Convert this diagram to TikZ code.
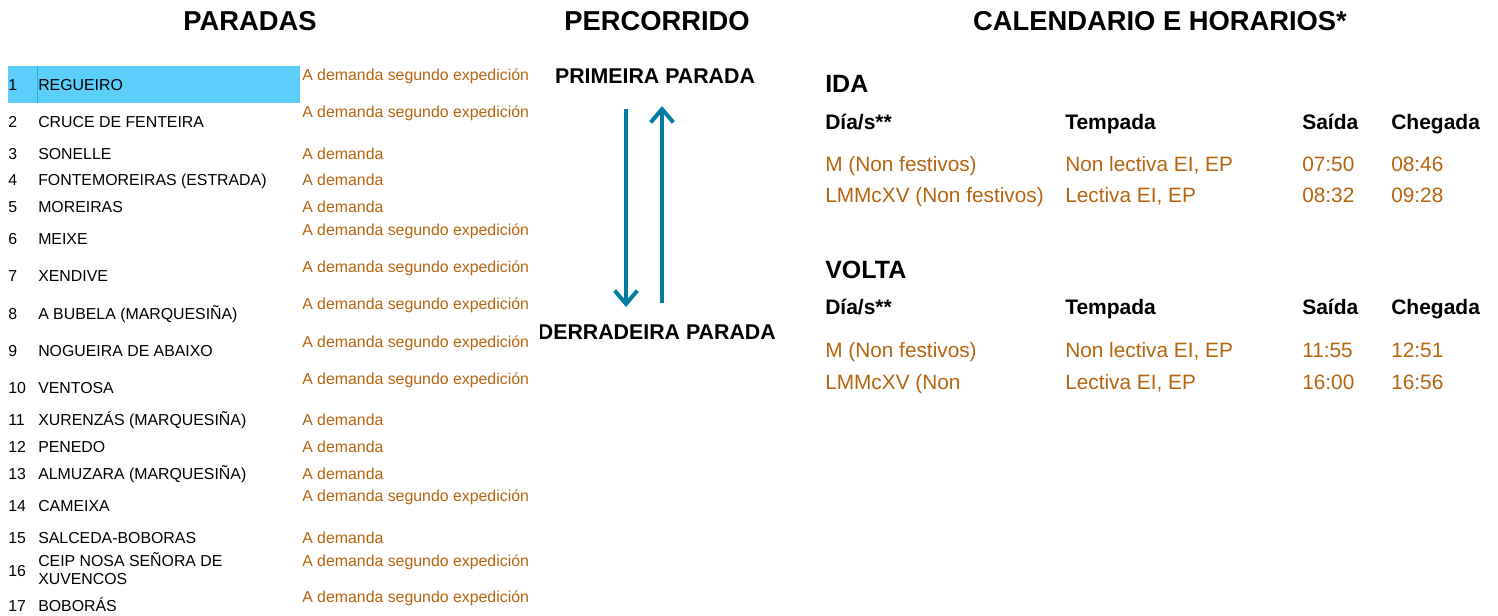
\documentclass[tikz,border=0pt]{standalone}
\usepackage{fontspec}
\setmainfont{Liberation Sans}
\usetikzlibrary{arrows.meta}

\begin{document}
\begin{tikzpicture}[x=0.75pt,y=0.75pt,yscale=-1,xscale=1,inner sep=0pt,
  title/.style={anchor=base,font=\fontsize{20.5}{24}\bfseries\selectfont},
  stopnum/.style={anchor=base west,font=\fontsize{11.9}{13.5}\selectfont},
  stopname/.style={anchor=base west,align=left,font=\fontsize{11.9}{13.5}\selectfont},
  demand/.style={anchor=base west,text={rgb, 255:red, 182; green, 100; blue, 14 },font=\fontsize{11.9}{13.5}\selectfont},
  ends/.style={font=\fontsize{16}{18}\bfseries\selectfont},
  route/.style={color={rgb, 255:red, 4; green, 124; blue, 163 },line width=3pt,-{Straight Barb[length=10pt,width=17pt]}},
  trip/.style={anchor=base west,font=\fontsize{18.75}{22}\bfseries\selectfont},
  colhead/.style={anchor=base west,font=\fontsize{15.75}{18}\bfseries\selectfont},
  cell/.style={anchor=base west,text={rgb, 255:red, 182; green, 100; blue, 14 },font=\fontsize{15.6}{18}\selectfont}
]
\useasboundingbox (0,0) rectangle (1498,615);

%Titles
\draw (250,30) node (tparadas) [title] {PARADAS};
\draw (657,30) node (tpercorrido) [title] {PERCORRIDO};
\draw (1160,30) node (tcalendario) [title] {CALENDARIO E HORARIOS*};

%First stop highlight
\fill [color={rgb, 255:red, 91; green, 206; blue, 250 }] (8,66) rectangle (300,103);
\draw [color={rgb, 255:red, 40; green, 172; blue, 232 }] (37,66) -- (37,103);

% Stops
\draw (8,90) node (n1) [stopnum] {1};
\draw (38,90) node (s1) [stopname] {REGUEIRO};
\draw (302,80.5) node (d1) [demand] {A demanda segundo expedición};
\draw (8,127.5) node (n2) [stopnum] {2};
\draw (38,127.5) node (s2) [stopname] {CRUCE DE FENTEIRA};
\draw (302,117.5) node (d2) [demand] {A demanda segundo expedición};
\draw (8,159.5) node (n3) [stopnum] {3};
\draw (38,159.5) node (s3) [stopname] {SONELLE};
\draw (302,159.5) node (d3) [demand] {A demanda};
\draw (8,185.5) node (n4) [stopnum] {4};
\draw (38,185.5) node (s4) [stopname] {FONTEMOREIRAS (ESTRADA)};
\draw (302,185.5) node (d4) [demand] {A demanda};
\draw (8,212.5) node (n5) [stopnum] {5};
\draw (38,212.5) node (s5) [stopname] {MOREIRAS};
\draw (302,212.5) node (d5) [demand] {A demanda};
\draw (8,244.5) node (n6) [stopnum] {6};
\draw (38,244.5) node (s6) [stopname] {MEIXE};
\draw (302,235.5) node (d6) [demand] {A demanda segundo expedición};
\draw (8,281.5) node (n7) [stopnum] {7};
\draw (38,281.5) node (s7) [stopname] {XENDIVE};
\draw (302,272.5) node (d7) [demand] {A demanda segundo expedición};
\draw (8,319.5) node (n8) [stopnum] {8};
\draw (38,319.5) node (s8) [stopname] {A BUBELA (MARQUESIÑA)};
\draw (302,309.5) node (d8) [demand] {A demanda segundo expedición};
\draw (8,356.5) node (n9) [stopnum] {9};
\draw (38,356.5) node (s9) [stopname] {NOGUEIRA DE ABAIXO};
\draw (302,347.5) node (d9) [demand] {A demanda segundo expedición};
\draw (8,393.5) node (n10) [stopnum] {10};
\draw (38,393.5) node (s10) [stopname] {VENTOSA};
\draw (302,384.5) node (d10) [demand] {A demanda segundo expedición};
\draw (8,425.5) node (n11) [stopnum] {11};
\draw (38,425.5) node (s11) [stopname] {XURENZÁS (MARQUESIÑA)};
\draw (302,425.5) node (d11) [demand] {A demanda};
\draw (8,452.5) node (n12) [stopnum] {12};
\draw (38,452.5) node (s12) [stopname] {PENEDO};
\draw (302,452.5) node (d12) [demand] {A demanda};
\draw (8,479.5) node (n13) [stopnum] {13};
\draw (38,479.5) node (s13) [stopname] {ALMUZARA (MARQUESIÑA)};
\draw (302,479.5) node (d13) [demand] {A demanda};
\draw (8,511.5) node (n14) [stopnum] {14};
\draw (38,511.5) node (s14) [stopname] {CAMEIXA};
\draw (302,501.5) node (d14) [demand] {A demanda segundo expedición};
\draw (8,543.5) node (n15) [stopnum] {15};
\draw (38,543.5) node (s15) [stopname] {SALCEDA-BOBORAS};
\draw (302,543.5) node (d15) [demand] {A demanda};
\draw (8,576) node (n16) [stopnum] {16};
\draw (38,584.5) node (s16) [stopname] {CEIP NOSA SEÑORA DE\\XUVENCOS};
\draw (302,566.5) node (d16) [demand] {A demanda segundo expedición};
\draw (8,611.5) node (n17) [stopnum] {17};
\draw (38,611.5) node (s17) [stopname] {BOBORÁS};
\draw (302,602.5) node (d17) [demand] {A demanda segundo expedición};

% Route
\draw (655,83) node (first) [ends,anchor=base] {PRIMEIRA PARADA};
\begin{scope}
\clip (540,315) rectangle (800,350);
\draw (776,339) node (last) [ends,anchor=base east] {DERRADEIRA PARADA};
\end{scope}
\coordinate (gofrom) at (626,109);
\coordinate (goto) at (626,307);
\coordinate (backfrom) at (662,303);
\coordinate (backto) at (662,106);
\draw [route] (gofrom) -- (goto);
\draw [route] (backfrom) -- (backto);

% Timetable: IDA
\draw (825,92) node (ida) [trip] {IDA};
\draw (825,129) node (idadia) [colhead] {Día/s**};
\draw (1065,129) node (idatempada) [colhead] {Tempada};
\draw (1302,129) node (idasaida) [colhead] {Saída};
\draw (1391,129) node (idachegada) [colhead] {Chegada};
\draw (825,171) node (ida1a) [cell] {M (Non festivos)};
\draw (1065,171) node (ida1b) [cell] {Non lectiva EI, EP};
\draw (1302,171) node (ida1c) [cell] {07:50};
\draw (1391,171) node (ida1d) [cell] {08:46};
\draw (825,202.5) node (ida2a) [cell] {LMMcXV (Non festivos)};
\draw (1065,202.5) node (ida2b) [cell] {Lectiva EI, EP};
\draw (1302,202.5) node (ida2c) [cell] {08:32};
\draw (1391,202.5) node (ida2d) [cell] {09:28};

% Timetable: VOLTA
\draw (825,278) node (volta) [trip] {VOLTA};
\draw (825,314) node (voltadia) [colhead] {Día/s**};
\draw (1065,314) node (voltatempada) [colhead] {Tempada};
\draw (1302,314) node (voltasaida) [colhead] {Saída};
\draw (1391,314) node (voltachegada) [colhead] {Chegada};
\draw (825,357.5) node (volta1a) [cell] {M (Non festivos)};
\draw (1065,357.5) node (volta1b) [cell] {Non lectiva EI, EP};
\draw (1302,357.5) node (volta1c) [cell] {11:55};
\draw (1391,357.5) node (volta1d) [cell] {12:51};
\draw (825,389) node (volta2a) [cell] {LMMcXV (Non};
\draw (1065,389) node (volta2b) [cell] {Lectiva EI, EP};
\draw (1302,389) node (volta2c) [cell] {16:00};
\draw (1391,389) node (volta2d) [cell] {16:56};

\end{tikzpicture}
\end{document}
